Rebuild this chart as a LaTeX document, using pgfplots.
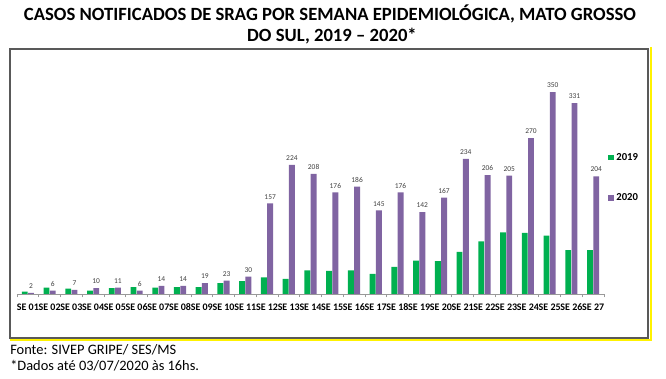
\documentclass[border=0pt]{standalone}
\usepackage{pgfplots}
\pgfplotsset{compat=1.18}
\usepackage{fontspec}
\setmainfont{Carlito}
\definecolor{g19}{HTML}{00B050}
\definecolor{p20}{HTML}{8064A2}
\definecolor{framec}{HTML}{595959}
\definecolor{lblc}{HTML}{404040}
\begin{document}
\begin{tikzpicture}[x=0.75pt,y=0.75pt]
\path (0,0) rectangle (666,378);
\draw[framec, line width=1.1pt] (10,329) rectangle (648,40);
\draw[yellow, line width=1.5pt] (651,331) -- (651,38) -- (10,38);
\node[font=\bfseries\fontsize{14}{16}\selectfont] at (330,364) {CASOS NOTIFICADOS DE SRAG POR SEMANA EPIDEMIOLÓGICA, MATO GROSSO};
\node[font=\bfseries\fontsize{14}{16}\selectfont] at (332,342) {DO SUL, 2019 -- 2020*};
\node[anchor=west, font=\fontsize{10.8}{12}\selectfont, inner sep=0pt] at (10,28) {Fonte: SIVEP GRIPE/ SES/MS};
\node[anchor=west, font=\fontsize{10.8}{12}\selectfont, inner sep=0pt] at (10,12) {*Dados até 03/07/2020 às 16hs.};
\begin{axis}[
  at={(12.75pt,63pt)}, anchor=south west,
  scale only axis, width=440.25pt, height=173.1pt,
  xmin=-0.5, xmax=26.5, ymin=0, ymax=400,
  ybar=0.3pt, bar width=4.4pt,
  axis x line=bottom, axis y line=none,
  x axis line style={-, draw=gray!80, line width=0.5pt},
  xtick={0,...,26},
  xticklabels={SE 01,SE 02,SE 03,SE 04,SE 05,SE 06,SE 07,SE 08,SE 09,SE 10,SE 11,SE 12,SE 13,SE 14,SE 15,SE 16,SE 17,SE 18,SE 19,SE 20,SE 21,SE 22,SE 23,SE 24,SE 25,SE 26,SE 27},
  major tick length=0pt,
  minor xtick={-0.5,0.5,...,26.5},
  minor tick length=2.5pt, tick align=outside,
  minor tick style={draw=gray!80, line width=0.5pt},
  xticklabel style={font=\bfseries\fontsize{7.5}{9}\selectfont, inner sep=0pt, anchor=north, text height=5.5pt, text depth=0pt, yshift=-7pt},
  ytick=\empty,
  /pgf/number format/assume math mode=true,
  legend style={at={(1.007,0.623)}, anchor=north west, draw=none, fill=none,
     font=\bfseries\fontsize{8}{10}\selectfont, row sep=19.5pt, inner sep=0pt,
     legend cell align=left},
  legend image code/.code={\fill[#1] (0pt,-2pt) rectangle (4pt,2pt);},
  clip=false,
]
\addplot[fill=g19, draw=none] coordinates {
(0,4) (1,11) (2,9.5) (3,6) (4,10) (5,12) (6,11) (7,12) (8,12) (9,19)
(10,22.5) (11,29) (12,26) (13,41) (14,40) (15,41) (16,35) (17,47) (18,58) (19,57)
(20,73) (21,91) (22,107) (23,106) (24,101) (25,76) (26,76)};
\addlegendentry{2019}
\addplot[fill=p20, draw=none, nodes near coords,
  every node near coord/.append style={font=\fontsize{5.6}{6}\selectfont, text=lblc, inner sep=1.5pt, yshift=1.5pt}] coordinates {
(0,2) (1,6) (2,7) (3,10) (4,11) (5,6) (6,14) (7,14) (8,19) (9,23)
(10,30) (11,157) (12,224) (13,208) (14,176) (15,186) (16,145) (17,176) (18,142) (19,167)
(20,234) (21,206) (22,205) (23,270) (24,350) (25,331) (26,204)};
\addlegendentry{2020}
\end{axis}
\end{tikzpicture}
\end{document}
